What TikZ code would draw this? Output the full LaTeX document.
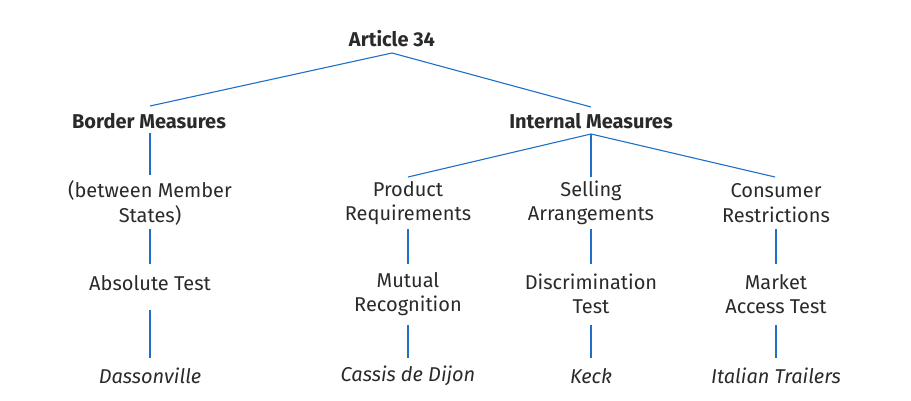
\documentclass[tikz,border=0pt]{standalone}
\usepackage{fontspec}
\setmainfont{Fira Sans}
\usetikzlibrary{calc}
\definecolor{txt}{HTML}{2A2A2A}
\definecolor{ln}{HTML}{1F6FC9}
\begin{document}
\begin{tikzpicture}[x=1pt,y=1pt,
  lbl/.style={inner sep=0pt, align=center, text=txt, font=\fontsize{20}{24.5}\selectfont},
  hdr/.style={lbl, font=\fontsize{20}{24.5}\selectfont\bfseries},
  cas/.style={lbl, font=\fontsize{20}{24.5}\selectfont\itshape},
  conn/.style={draw=ln, line width=1.1pt}]
\useasboundingbox (0,0) rectangle (911,-401);
% nodes
\node[hdr] (art) at (392,-39) {Article 34};
\node[hdr] (bm) at (149,-121) {Border Measures};
\node[hdr] (im) at (591,-121) {Internal Measures};
\node[lbl] (bms) at (150,-203) {(between Member\\States)};
\node[lbl] (abs) at (150,-283) {Absolute Test};
\node[cas] (dass) at (150,-376) {Dassonville};
\node[lbl] (pr) at (408,-203) {Product\\Requirements};
\node[lbl] (sa) at (591,-203) {Selling\\Arrangements};
\node[lbl] (cr) at (776,-203) {Consumer\\Restrictions};
\node[lbl] (mr) at (408,-294) {Mutual\\Recognition};
\node[lbl] (dt) at (591,-294) {Discrimination\\Test};
\node[lbl] (mat) at (776,-294) {Market\\Access Test};
\node[cas] (cdd) at (408,-376) {Cassis de Dijon};
\node[cas] (keck) at (591,-376) {Keck};
\node[cas] (itr) at (776,-376) {Italian Trailers};
% connectors
\draw[conn] ([xshift=1pt,yshift=15pt]bm.center) -- ([yshift=-14pt]art.center) -- ([yshift=14pt]im.center);
\draw[conn] ([yshift=-13pt]im.center) -- ([yshift=26pt]pr.center);
\draw[conn] ([yshift=-13pt]im.center) -- ([yshift=26pt]sa.center);
\draw[conn] ([yshift=-13pt]im.center) -- ([xshift=-1pt,yshift=26pt]cr.center);
\draw[conn] ([xshift=1pt,yshift=-12pt]bm.center) -- ([yshift=28pt]bms.center);
\draw[conn] ([yshift=-26pt]bms.center) -- ([yshift=19pt]abs.center);
\draw[conn] ([yshift=-27pt]abs.center) -- ([yshift=18pt]dass.center);
\foreach \a/\b/\c in {pr/mr/cdd, sa/dt/keck, cr/mat/itr}{
  \draw[conn] ([yshift=-26pt]\a.center) -- ([yshift=30pt]\b.center);
  \draw[conn] ([yshift=-31pt]\b.center) -- ([yshift=18pt]\c.center);
}
\end{tikzpicture}
\end{document}
